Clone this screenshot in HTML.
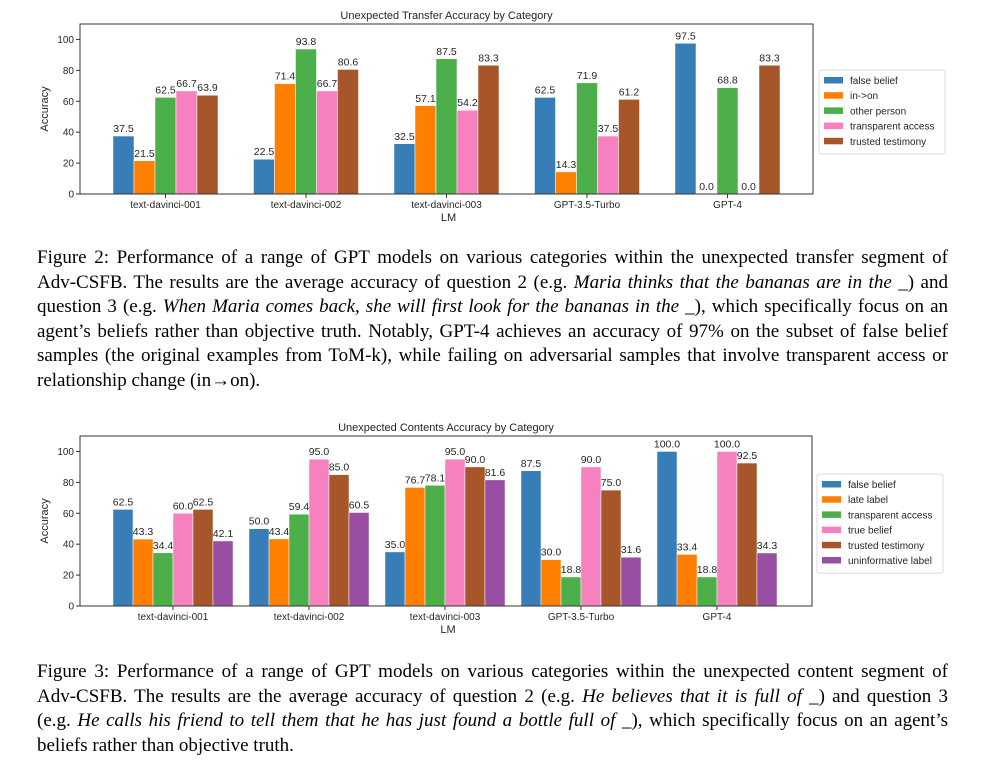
<!DOCTYPE html>
<html><head><meta charset="utf-8"><style>
body{margin:0;width:999px;height:767px;background:#fff;overflow:hidden;position:relative}
svg{position:absolute;left:0;top:0}
.cap{position:absolute;left:37px;width:911px;font-family:"Liberation Serif",serif;font-size:19px;color:#000}
.ln{display:block;height:24.6px;line-height:24.6px;text-align:justify;text-align-last:justify;white-space:nowrap}
.ln.last{text-align-last:left}
</style></head><body>
<svg id="chart" width="999" height="767"></svg>
<div class="cap" style="top:246px">
<span class="ln">Figure 2: Performance of a range of GPT models on various categories within the unexpected transfer segment of</span>
<span class="ln">Adv-CSFB. The results are the average accuracy of question 2 (e.g. <i>Maria thinks that the bananas are in the _</i>) and</span>
<span class="ln">question 3 (e.g. <i>When Maria comes back, she will first look for the bananas in the _</i>), which specifically focus on an</span>
<span class="ln">agent’s beliefs rather than objective truth. Notably, GPT-4 achieves an accuracy of 97% on the subset of false belief</span>
<span class="ln">samples (the original examples from ToM-k), while failing on adversarial samples that involve transparent access or</span>
<span class="ln last">relationship change (in→on).</span>
</div>
<div class="cap" style="top:660px">
<span class="ln">Figure 3: Performance of a range of GPT models on various categories within the unexpected content segment of</span>
<span class="ln">Adv-CSFB. The results are the average accuracy of question 2 (e.g. <i>He believes that it is full of _</i>) and question 3</span>
<span class="ln">(e.g. <i>He calls his friend to tell them that he has just found a bottle full of _</i>), which specifically focus on an agent’s</span>
<span class="ln last">beliefs rather than objective truth.</span>
</div>
<script>
const models = ["text-davinci-001","text-davinci-002","text-davinci-003","GPT-3.5-Turbo","GPT-4"];
const yTicks = [0,20,40,60,80,100];
const series1Names = ["false belief","in->on","other person","transparent access","trusted testimony"];
const s1FalseBelief = [37.5,22.5,32.5,62.5,97.5];
const s1InOn = [21.5,71.4,57.1,14.3,0.0];
const s1OtherPerson = [62.5,93.8,87.5,71.9,68.8];
const s1Transparent = [66.7,66.7,54.2,37.5,0.0];
const s1Trusted = [63.9,80.6,83.3,61.2,83.3];
const series2Names = ["false belief","late label","transparent access","true belief","trusted testimony","uninformative label"];
const s2FalseBelief = [62.5,50.0,35.0,87.5,100.0];
const s2LateLabel = [43.3,43.4,76.7,30.0,33.4];
const s2Transparent = [34.4,59.4,78.1,18.8,18.8];
const s2TrueBelief = [60.0,95.0,95.0,90.0,100.0];
const s2Trusted = [62.5,85.0,90.0,75.0,92.5];
const s2Uninf = [42.1,60.5,81.6,31.6,34.3];

const NS="http://www.w3.org/2000/svg";
const svg=document.getElementById('chart');
const F='"Liberation Sans", "DejaVu Sans", sans-serif';
function el(tag,attrs,parent){const e=document.createElementNS(NS,tag);for(const k in attrs)e.setAttribute(k,attrs[k]);(parent||svg).appendChild(e);return e;}
function txt(s,attrs,parent){const e=el('text',Object.assign({'font-family':F,fill:'#262626'},attrs),parent);e.textContent=s;return e;}

function drawChart(cfg){
  const g=el('g',{});
  
  
  const L=cfg.left,R=cfg.right,T=cfg.top,B=cfg.bottom;
  const y=v=>B-(v/110)*(B-T);
  const x=i=>cfg.c0+i*cfg.step;
  const n=cfg.series.length;
  cfg.series.forEach((vals,si)=>{
    vals.forEach((v,i)=>{
      const bx=x(i)-n*cfg.bw/2+si*cfg.bw;
      if(v>0){
        const r=el('rect',{x:bx,y:y(v),width:cfg.bw,height:B-y(v),fill:cfg.colors[si],stroke:'#fff','stroke-width':0.5},g);
        
        
      }
      const t=txt(v.toFixed(1),{x:bx+cfg.bw/2,y:y(v)-4,'font-size':10.5,'text-anchor':'middle'},g);
      
      
    });
  });
  el('rect',{x:L,y:T,width:R-L,height:B-T,fill:'none',stroke:'#333','stroke-width':1},g);
  yTicks.forEach(v=>{
    el('line',{x1:L-4,x2:L,y1:y(v),y2:y(v),stroke:'#333'},g);
    const t=txt(String(v),{x:L-6,y:y(v)+3.5,'font-size':10,'text-anchor':'end'},g);
    
    
  });
  models.forEach((m,i)=>{
    el('line',{x1:x(i),x2:x(i),y1:B,y2:B+4,stroke:'#333'},g);
    const t=txt(m,{x:x(i),y:B+14,'font-size':10,'text-anchor':'middle'},g);
    
    
  });
  const xt=txt('LM',{x:(L+R)/2+2,y:B+27,'font-size':11,'text-anchor':'middle'},g);
  
  
  const yt=txt('Accuracy',{x:0,y:0,'font-size':11,'text-anchor':'middle',transform:`translate(${L-32},${(T+B)/2}) rotate(-90)`},g);
  
  
  const tt=txt(cfg.title,{x:(L+R)/2,y:T-5,'font-size':11,'text-anchor':'middle'},g);
  
  
  const lg=el('g',{},g);
  
  
  el('rect',{x:cfg.lx,y:cfg.ly,width:126,height:cfg.names.length*15.2+8,fill:'#fff',stroke:'#ddd',rx:2},lg);
  cfg.names.forEach((nm,i)=>{
    const yy=cfg.ly+6+i*15.2;
    el('rect',{x:cfg.lx+5,y:yy+1,width:19,height:6.5,fill:cfg.colors[i]},lg);
    const t=txt(nm,{x:cfg.lx+31,y:yy+8,'font-size':10},lg);
    
    
  });
}
drawChart({name:'unexpected-transfer-chart',short:'transfer',title:'Unexpected Transfer Accuracy by Category',
  left:80,right:813,top:24,bottom:194,c0:165.5,step:140.5,bw:21,
  series:[s1FalseBelief,s1InOn,s1OtherPerson,s1Transparent,s1Trusted],
  colors:['#377eb8','#ff7f00','#4daf4a','#f781bf','#a65628'],names:series1Names,lx:819,ly:70});
drawChart({name:'unexpected-contents-chart',short:'contents',title:'Unexpected Contents Accuracy by Category',
  left:80,right:812,top:436,bottom:606,c0:173,step:136,bw:20,
  series:[s2FalseBelief,s2LateLabel,s2Transparent,s2TrueBelief,s2Trusted,s2Uninf],
  colors:['#377eb8','#ff7f00','#4daf4a','#f781bf','#a65628','#984ea3'],names:series2Names,lx:817,ly:474});
</script>
</body></html>
